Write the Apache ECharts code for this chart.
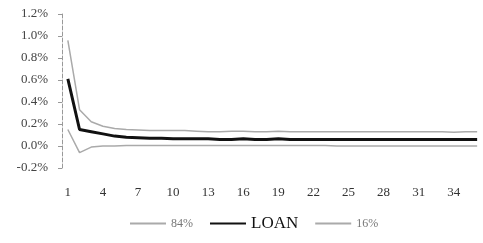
<!DOCTYPE html>
<html>
<head>
<meta charset="utf-8">
<script src="https://cdn.jsdelivr.net/npm/echarts@6/dist/echarts.min.js"></script>
<style>
  html, body { margin: 0; padding: 0; background: #fff; }
  #main { width: 483px; height: 243px; }
</style>
</head>
<body>
<div id="main"></div>
<script>
// periods 1..36
var categories = [];
for (var i = 1; i <= 36; i++) categories.push(String(i));

// values in percent
var upper84 = [0.96, 0.33, 0.22, 0.18, 0.16, 0.15, 0.145, 0.14, 0.14, 0.14, 0.14, 0.135,
               0.13, 0.13, 0.135, 0.135, 0.13, 0.13, 0.135, 0.13, 0.13, 0.13, 0.13, 0.13,
               0.13, 0.13, 0.13, 0.13, 0.13, 0.13, 0.13, 0.13, 0.13, 0.125, 0.13, 0.13];
var loan = [0.61, 0.15, 0.13, 0.11, 0.09, 0.08, 0.075, 0.07, 0.07, 0.065, 0.065, 0.065,
            0.065, 0.06, 0.06, 0.065, 0.06, 0.06, 0.065, 0.06, 0.06, 0.06, 0.06, 0.06,
            0.06, 0.06, 0.06, 0.06, 0.06, 0.06, 0.06, 0.06, 0.06, 0.06, 0.06, 0.06];
var lower16 = [0.15, -0.06, -0.01, 0.0, 0.0, 0.005, 0.005, 0.005, 0.005, 0.005, 0.005, 0.005,
               0.005, 0.005, 0.005, 0.005, 0.005, 0.005, 0.005, 0.005, 0.005, 0.005, 0.005, 0.0,
               0.0, 0.0, 0.0, 0.0, 0.0, 0.0, 0.0, 0.0, 0.0, 0.0, 0.0, 0.0];

var xLabelStep = 3;

var chart = echarts.init(document.getElementById('main'));
var serif = 'Liberation Serif';

var option = {
  animation: false,
  grid: { left: 62, right: 0, top: 14, bottom: 75 },
  legend: {
    bottom: 6,
    left: 124,
    itemWidth: 36,
    itemHeight: 10,
    itemGap: 16,
    itemStyle: { opacity: 0 },   // hide the symbol, keep only the line
    textStyle: { fontFamily: serif, fontSize: 12, color: '#777' },
    data: [
      { name: '84%' },
      { name: 'LOAN', textStyle: { fontSize: 17, color: '#111' } },
      { name: '16%' }
    ]
  },
  xAxis: {
    type: 'category',
    data: categories,
    boundaryGap: true,
    axisLine: { show: false, onZero: false },
    axisTick: { show: false },
    axisLabel: {
      interval: function (idx) { return idx % xLabelStep === 0; },
      margin: 18,
      fontFamily: serif,
      fontSize: 13,
      color: '#333'
    },
    splitLine: { show: false }
  },
  yAxis: {
    type: 'value',
    min: -0.2,
    max: 1.2,
    interval: 0.2,
    axisLine: { show: true, lineStyle: { color: '#999', type: 'dashed', width: 1 } },
    axisTick: { show: true, length: 4, lineStyle: { color: '#999' } },
    axisLabel: {
      margin: 14,
      fontFamily: serif,
      fontSize: 13,
      color: '#444',
      formatter: function (v) { return v.toFixed(1) + '%'; }
    },
    splitLine: { show: false }
  },
  series: [
    {
      name: '84%', type: 'line', data: upper84, symbol: 'none',
      lineStyle: { color: '#aaa', width: 1.5 }, itemStyle: { color: '#aaa' }
    },
    {
      name: 'LOAN', type: 'line', data: loan, symbol: 'none',
      lineStyle: { color: '#111', width: 3 }, itemStyle: { color: '#111' }
    },
    {
      name: '16%', type: 'line', data: lower16, symbol: 'none',
      lineStyle: { color: '#aaa', width: 1.5 }, itemStyle: { color: '#aaa' }
    }
  ]
};

chart.setOption(option);
</script>
</body>
</html>
